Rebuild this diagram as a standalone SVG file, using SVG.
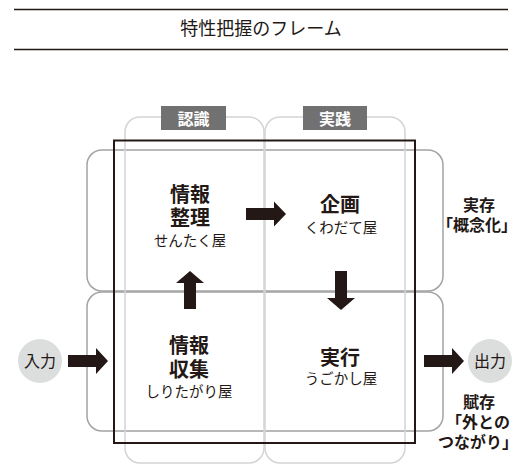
<svg xmlns="http://www.w3.org/2000/svg" width="531" height="473" viewBox="0 0 531 473">
<style>
text{font-family:"Noto Sans CJK JP","Noto Sans",sans-serif;fill:#231815;text-anchor:middle}
.rule{stroke:#231815;stroke-width:1.3}
.row{fill:none;stroke:#a3a3a3;stroke-width:1.5}
.col{fill:none;stroke:#d4d4d4;stroke-width:1.5}
.frame{fill:none;stroke:#231815;stroke-width:2}
.tag{fill:#727171}
.tagt{fill:#fff;font-size:16px;font-weight:700}
.main{font-size:20px;font-weight:700}
.sub{font-size:14.5px}
.side{font-size:16px;font-weight:700}
.circ{fill:#dcdddd}
.ct{font-size:16px}
.arrow{fill:#231815}
</style>
<g id="title">
<line class="rule" x1="14" y1="9.5" x2="508" y2="9.5"/>
<text x="261" y="35" style="font-size:18px">特性把握のフレーム</text>
<line class="rule" x1="14" y1="49.5" x2="508" y2="49.5"/>
</g>
<g id="frame">
<rect class="row" x="87" y="150" width="356" height="141" rx="15"/>
<rect class="row" x="87" y="292" width="356" height="139" rx="15"/>
<rect class="col" x="125" y="117" width="139" height="346" rx="15"/>
<rect class="col" x="265" y="117" width="140" height="346" rx="15"/>
<rect class="frame" x="114" y="140.5" width="301" height="302.5"/>
</g>
<g id="tag-ninshiki">
<rect class="tag" x="161" y="106" width="65" height="24"/>
<text class="tagt" x="193.5" y="124.5">認識</text>
</g>
<g id="tag-jissen">
<rect class="tag" x="303" y="106" width="64" height="24"/>
<text class="tagt" x="335" y="124.5">実践</text>
</g>
<g id="node-seiri">
<text class="main" x="190" y="202">情報</text>
<text class="main" x="190" y="225">整理</text>
<text class="sub" x="190" y="246">せんたく屋</text>
</g>
<g id="node-kikaku">
<text class="main" x="340" y="212">企画</text>
<text class="sub" x="341" y="233">くわだて屋</text>
</g>
<g id="node-shushu">
<text class="main" x="189" y="353">情報</text>
<text class="main" x="189" y="377">収集</text>
<text class="sub" x="189" y="397">しりたがり屋</text>
</g>
<g id="node-jikko">
<text class="main" x="340" y="365">実行</text>
<text class="sub" x="341" y="384">うごかし屋</text>
</g>
<g id="node-input">
<circle class="circ" cx="40" cy="361" r="22"/>
<text class="ct" x="40" y="367">入力</text>
</g>
<g id="node-output">
<circle class="circ" cx="490" cy="361" r="22"/>
<text class="ct" x="490" y="367">出力</text>
</g>
<g id="label-jitsuzon">
<text class="side" x="479" y="211">実存</text>
<text class="side" x="477" y="231">「概念化」</text>
</g>
<g id="label-fuzon">
<text class="side" x="479" y="408">賦存</text>
<text class="side" x="478" y="428">「外との</text>
<text class="side" x="478" y="448">つながり」</text>
</g>
<g id="connectors">
<polygon class="arrow" points="246,208 274,208 274,201.5 286,214 274,226.5 274,220 246,220"/>
<polygon class="arrow" points="184,309 184,283 176,283 190,271 204,283 196,283 196,309"/>
<polygon class="arrow" points="335,271 347,271 347,298 355,298 341,310 327,298 335,298"/>
<polygon class="arrow" points="68,355 96,355 96,348 108,361 96,374 96,367 68,367"/>
<polygon class="arrow" points="424,355 452,355 452,348 464,361 452,374 452,367 424,367"/>
</g>
</svg>
